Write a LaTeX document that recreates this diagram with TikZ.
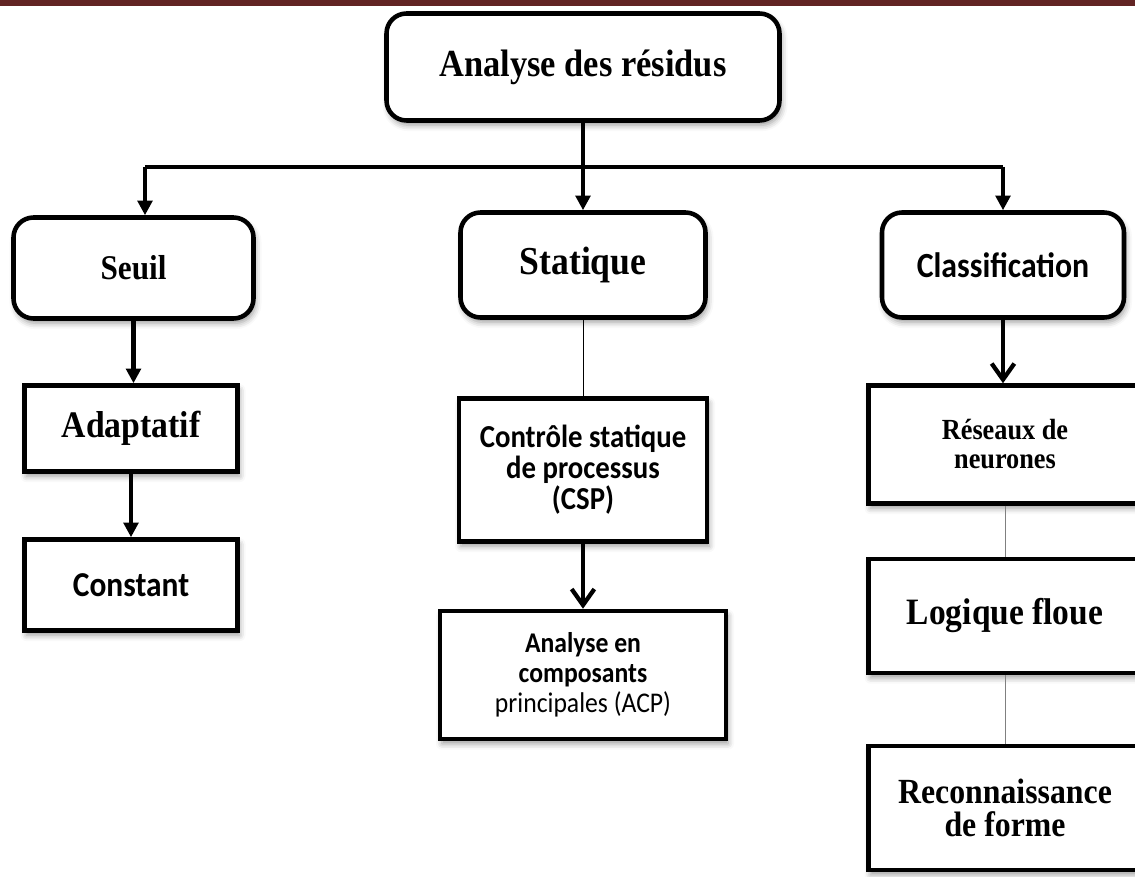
\documentclass[tikz,border=0pt]{standalone}
\usepackage{fontspec}
\newfontfamily\timesfont[FakeStretch=0.9]{Liberation Serif}
\newfontfamily\califont[FakeStretch=0.9]{Carlito}
\usetikzlibrary{arrows.meta,shadows.blur}
\definecolor{headbar}{HTML}{622423}
\newcommand\sz[2]{\fontsize{#1}{#2}\selectfont}

\tikzset{
  shade/.style={blur shadow={shadow xshift=1.5pt, shadow yshift=-3.5pt, shadow blur radius=4.5pt}},
  rbox/.style={draw, line width=3.4pt, rounded corners=15pt, fill=white, shade, align=center, inner sep=0pt},
  sbox/.style={draw, line width=3.4pt, fill=white, shade, align=center, inner sep=0pt},
  serifb/.style={font=\timesfont\bfseries\sz{#1}{#1}},
  sansb/.style={font=\califont\bfseries\sz{#1}{#1}},
  arr/.style={line width=3.2pt, -{Triangle[length=11pt,width=11pt]}},
  barb/.style={line width=3.2pt, -{Straight Barb[length=12pt,width=17pt]}},
  thin/.style={line width=0.75pt},
}

\begin{document}
\begin{tikzpicture}[x=0.75pt,y=-0.75pt]
\useasboundingbox (0,0) rectangle (1135,877);
\clip (0,0) rectangle (1135,877);
\fill[headbar] (0,0) rectangle (1135,6);

% top level
\node[rbox, serifb=28.7, minimum width=294.75pt, minimum height=80.25pt] (root) at (583,67) {Analyse des résidus};

% second level
\node[rbox, serifb=26, minimum width=180pt, minimum height=75.75pt] (seuil) at (133.5,268) {Seuil};
\node[rbox, serifb=29.7, minimum width=183.75pt, minimum height=78.75pt] (stat) at (583,265) {Statique};
\node[rbox, sansb=26.5, minimum width=181.5pt, minimum height=78.75pt] (classif) at (1003,265) {Classification};

% threshold branch
\node[sbox, serifb=28.1, minimum width=159.75pt, minimum height=64.5pt] (adapt) at (131,428.5) {Adaptatif};
\node[sbox, sansb=26.2, minimum width=159.75pt, minimum height=68.25pt] (const) at (131,585) {Constant};

% statistical branch
\node[sbox, font=\califont\bfseries\sz{24}{23.25}, minimum width=186pt, minimum height=107.25pt] (csp) at (583,470) {Contrôle statique\\de processus\\(CSP)};
\node[sbox, font=\califont\sz{21.4}{22.5}, minimum width=214.5pt, minimum height=96pt] (acp) at (583,675) {\textbf{Analyse en}\\\textbf{composants}\\principales (ACP)};

% classification branch
\node[sbox, font=\timesfont\bfseries\sz{21.9}{21.75}, minimum width=204.75pt, minimum height=88.5pt] (res) at (1005,444.5) {Réseaux de\\neurones};
\node[sbox, serifb=27.9, minimum width=204.75pt, minimum height=85.5pt] (flou) at (1005,616) {Logique floue};
\node[sbox, font=\timesfont\bfseries\sz{26.5}{24.75}, minimum width=204.75pt, minimum height=93pt] (forme) at (1005,808) {Reconnaissance\\de forme};

% connectors
\coordinate (jl) at (145,167);
\coordinate (jr) at (1003,167);
\draw[line width=3.2pt] (jl) -- (jr);
\draw[arr] (root.south) -- (stat.north);
\draw[arr] (jl) -- (jl |- seuil.north);
\draw[arr] (jr) -- (classif.north);
\draw[arr] (seuil.south) -- (seuil.south |- adapt.north);
\draw[arr] (adapt.south) -- (const.north);
\draw[thin] (stat.south) -- (csp.north);
\draw[barb] (csp.south) -- (acp.north);
\draw[barb] (classif.south) -- (classif.south |- res.north);
\draw[thin, gray] (res.south) -- (flou.north);
\draw[thin, gray] (flou.south) -- (forme.north);
\end{tikzpicture}
\end{document}
